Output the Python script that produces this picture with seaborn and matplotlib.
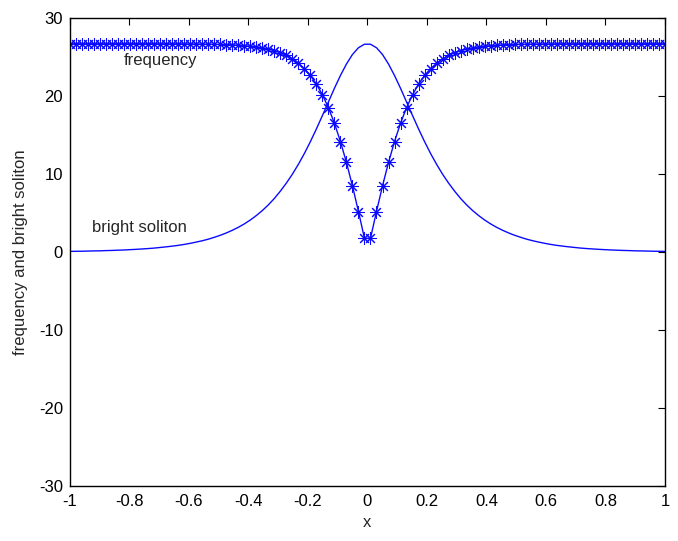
import numpy as np
import pandas as pd
import matplotlib
matplotlib.use("Agg")
import matplotlib.pyplot as plt
import seaborn as sns

# x grid (100 points, -1 .. 1), right half; curves are symmetric
x_right = [0.0101, 0.0303, 0.0505, 0.0707, 0.0909, 0.1111, 0.1313, 0.1515, 0.1717, 0.1919,
           0.2121, 0.2323, 0.2525, 0.2727, 0.2929, 0.3131, 0.3333, 0.3535, 0.3737, 0.3939,
           0.4141, 0.4343, 0.4545, 0.4747, 0.4949, 0.5152, 0.5354, 0.5556, 0.5758, 0.5960,
           0.6162, 0.6364, 0.6566, 0.6768, 0.6970, 0.7172, 0.7374, 0.7576, 0.7778, 0.7980,
           0.8182, 0.8384, 0.8586, 0.8788, 0.8990, 0.9192, 0.9394, 0.9596, 0.9798, 1.0000]

freq_right = [1.75, 5.19, 8.47, 11.48, 14.16, 16.51, 18.50, 20.16, 21.53, 22.63,
              23.51, 24.21, 24.77, 25.20, 25.54, 25.80, 26.01, 26.17, 26.29, 26.38,
              26.46, 26.51, 26.56, 26.59, 26.61, 26.63, 26.65, 26.66, 26.67, 26.68,
              26.68, 26.69, 26.69, 26.69, 26.69, 26.70, 26.70, 26.70, 26.70, 26.70,
              26.70, 26.70, 26.70, 26.70, 26.70, 26.70, 26.70, 26.70, 26.70, 26.70]

soliton_right = [26.64, 26.19, 25.32, 24.10, 22.63, 20.99, 19.24, 17.49, 15.78, 14.15,
                 12.63, 11.24, 9.97, 8.83, 7.80, 6.86, 6.04, 5.31, 4.67, 4.10,
                 3.60, 3.16, 2.78, 2.44, 2.14, 1.88, 1.64, 1.44, 1.27, 1.11,
                 0.97, 0.85, 0.75, 0.66, 0.58, 0.50, 0.44, 0.39, 0.34, 0.30,
                 0.26, 0.23, 0.20, 0.18, 0.15, 0.14, 0.12, 0.10, 0.09, 0.08]

x_vals = [-v for v in x_right[::-1]] + x_right
freq_vals = freq_right[::-1] + freq_right
soliton_vals = soliton_right[::-1] + soliton_right

x_ticks = [-1, -0.8, -0.6, -0.4, -0.2, 0, 0.2, 0.4, 0.6, 0.8, 1]
x_tick_labels = ['-1', '-0.8', '-0.6', '-0.4', '-0.2', '0', '0.2', '0.4', '0.6', '0.8', '1']
y_ticks = [-30, -20, -10, 0, 10, 20, 30]

df = pd.DataFrame({'x': x_vals, 'frequency': freq_vals, 'soliton': soliton_vals})

sns.set_style('white')
plt.rcParams['font.family'] = ['Liberation Sans', 'DejaVu Sans']
plt.rcParams['font.size'] = 12
plt.rcParams['axes.unicode_minus'] = False

fig = plt.figure(figsize=(6.78, 5.41), dpi=100)
ax = fig.add_axes([0.1032, 0.1017, 0.8776, 0.865])

line_color = '#0a0aff'
sns.lineplot(data=df, x='x', y='frequency', ax=ax, color=line_color, linewidth=1,
             marker=(8, 2, 0), markersize=9, markeredgecolor=line_color,
             markeredgewidth=0.75, estimator=None, sort=False)
sns.lineplot(data=df, x='x', y='soliton', ax=ax, color=line_color, linewidth=1,
             estimator=None, sort=False)

ax.text(-0.82, 24.6, 'frequency', fontsize=12, va='center', ha='left')
ax.text(-0.925, 3.1, 'bright soliton', fontsize=12, va='center', ha='left')

ax.set_xlim(-1, 1)
ax.set_ylim(-30, 30)
ax.set_xticks(x_ticks)
ax.set_xticklabels(x_tick_labels)
ax.set_yticks(y_ticks)
ax.set_xlabel('x', fontsize=12, labelpad=4)
ax.set_ylabel('frequency and bright soliton', fontsize=12, labelpad=8)

ax.tick_params(direction='in', length=5, width=0.8, top=True, right=True,
               labelsize=12, colors='black')
ax.tick_params(axis='x', pad=6)
ax.tick_params(axis='y', pad=5)
for side in ax.spines.values():
    side.set_color('black')
    side.set_linewidth(1)

fig.savefig('out.png', dpi=100)
